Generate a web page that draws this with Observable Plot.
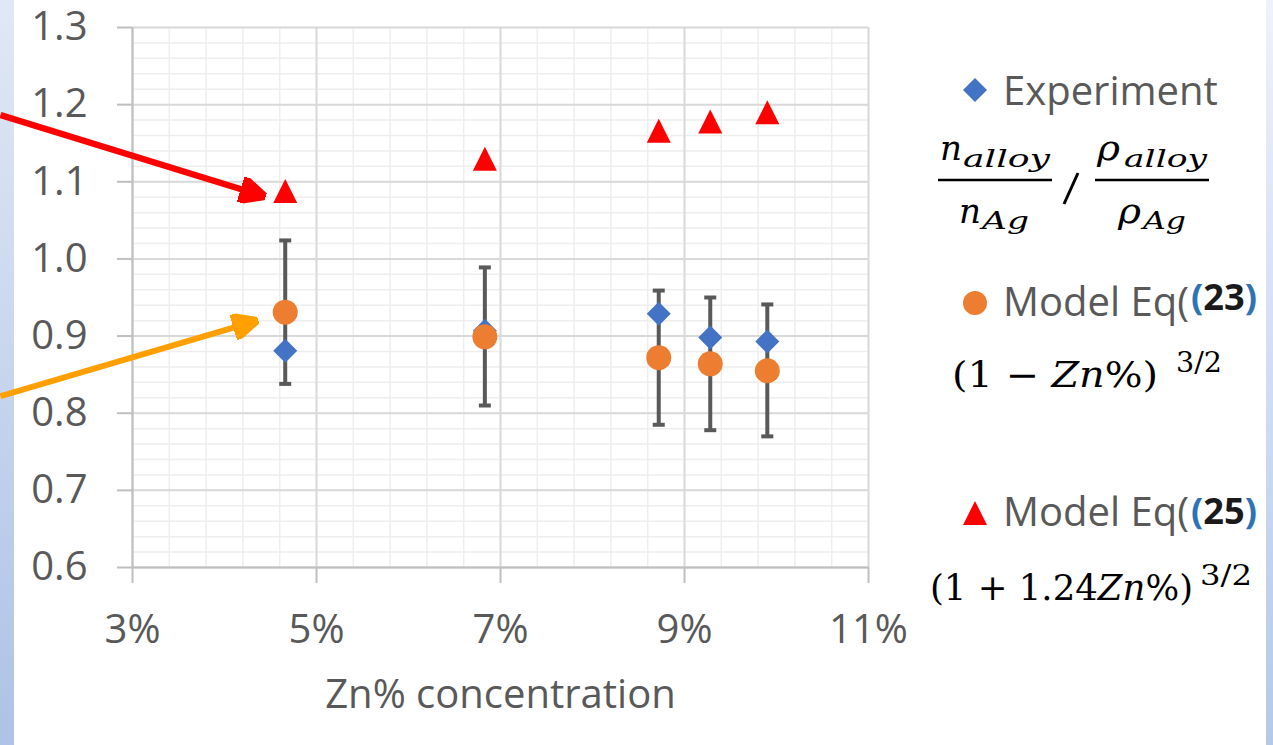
<!DOCTYPE html>
<html>
<head>
<meta charset="utf-8">
<script src="https://cdn.jsdelivr.net/npm/d3@7"></script>
<script src="https://cdn.jsdelivr.net/npm/@observablehq/plot@0.6"></script>
<style>
  html, body { margin: 0; padding: 0; background: #fff; }
  #wrap { position: relative; width: 1273px; height: 745px; overflow: hidden; }
  .strip { position: absolute; top: 0; height: 745px; }
  #stripLeft { left: 0; width: 14px; background: linear-gradient(#e1e8f5, #adc2e6); }
  #stripRight { left: 1266px; width: 7px; background: linear-gradient(#eef2fa, #b5c8e8); }
  #wrap svg { position: absolute; left: 0; top: 0; }
</style>
</head>
<body>
<div id="wrap">
  <div class="strip" id="stripLeft"></div>
  <div class="strip" id="stripRight"></div>
</div>
<script>
// Zn concentration of each alloy sample (fraction)
const zn = [0.0466, 0.0683, 0.0872, 0.0928, 0.0990];
// measured ratio (n_alloy/n_Ag)/(rho_alloy/rho_Ag)
const experiment = [0.881, 0.907, 0.929, 0.898, 0.893];
// model Eq (23): (1 - Zn%)^(3/2)
const modelEq23 = [0.931, 0.899, 0.872, 0.864, 0.855];
// model Eq (25): (1 + 1.24 Zn%)^(3/2)
const modelEq25 = [1.088, 1.130, 1.166, 1.178, 1.190];
// +-10% error bars around model Eq (23)
const errLow = [0.838, 0.810, 0.785, 0.778, 0.770];
const errHigh = [1.024, 0.989, 0.959, 0.950, 0.941];

const xTicks = [0.03, 0.05, 0.07, 0.09, 0.11];
const yTicks = [0.6, 0.7, 0.8, 0.9, 1.0, 1.1, 1.2, 1.3];
const xTitle = "Zn% concentration";

// callout arrows (data coordinates): tail and head end
const redArrow = [{x1: 0.01565, y1: 1.1865, x2: 0.0427, y2: 1.0871}];
const orangeArrow = [{x1: 0.01565, y1: 0.822, x2: 0.0419, y2: 0.9143}];

const legendLabels = ["Experiment", "Model Eq", "Model Eq"];
const eqRefs = ["23", "25"];

const rows = zn.map((z, i) => ({
  zn: z, exp: experiment[i], m23: modelEq23[i], m25: modelEq25[i], lo: errLow[i], hi: errHigh[i]
}));

const minorX = d3.range(0, 21).map(i => 0.03 + i * 0.004);
const minorY = d3.range(0, 36).map(i => 0.6 + i * 0.02);

// marker shapes
const diamond = {draw(ctx, size) { const r = Math.sqrt(size / Math.PI);
  ctx.moveTo(0, -r); ctx.lineTo(r, 0); ctx.lineTo(0, r); ctx.lineTo(-r, 0); ctx.closePath(); }};
const triangle = {draw(ctx, size) { const r = Math.sqrt(size / Math.PI);
  ctx.moveTo(0, -r); ctx.lineTo(r, r); ctx.lineTo(-r, r); ctx.closePath(); }};
const cap = {draw(ctx) { ctx.rect(-6, -2, 12, 4); }};

// filled arrowhead marker for the callouts
function arrowHead(color, context) {
  const doc = (context && context.document) || document;
  const ns = "http://www.w3.org/2000/svg";
  const m = doc.createElementNS(ns, "marker");
  m.setAttribute("viewBox", "0 -13 26 26");
  m.setAttribute("markerUnits", "userSpaceOnUse");
  m.setAttribute("markerWidth", 26);
  m.setAttribute("markerHeight", 26);
  m.setAttribute("refX", 9);
  m.setAttribute("refY", 0);
  m.setAttribute("orient", "auto");
  const p = doc.createElementNS(ns, "path");
  p.setAttribute("d", "M0,-12.5L26,0L0,12.5Z");
  p.setAttribute("fill", color);
  m.appendChild(p);
  return m;
}

function build(marker) {
  return Plot.plot({
    width: 1273,
    height: 745,
    marginLeft: 132,
    marginRight: 405,
    marginTop: 27,
    marginBottom: 178,
    x: {domain: [0.03, 0.11]},
    y: {domain: [0.6, 1.3]},
    style: {fontFamily: "'Open Sans', sans-serif", fontSize: "40px", color: "#595959", background: "transparent", overflow: "visible"},
    marks: [
      Plot.ruleX(minorX, {stroke: "#eeeeee", strokeWidth: 1.5}),
      Plot.ruleY(minorY, {stroke: "#eeeeee", strokeWidth: 1.5}),
      Plot.ruleX(xTicks, {stroke: "#d9d9d9", strokeWidth: 2}),
      Plot.ruleY(yTicks, {stroke: "#d9d9d9", strokeWidth: 2}),
      Plot.ruleX([0.03], {stroke: "#bfbfbf", strokeWidth: 2}),
      Plot.ruleY([0.6], {stroke: "#bfbfbf", strokeWidth: 2}),
      Plot.axisY({ticks: yTicks, tickSize: 15, tickPadding: 30, tickFormat: d3.format(".1f"),
        stroke: "#bfbfbf", strokeWidth: 2, fill: "#595959", label: null}),
      Plot.axisX({ticks: xTicks, tickSize: 16, tickPadding: 31, tickFormat: d3.format(".0%"),
        stroke: "#bfbfbf", strokeWidth: 2, fill: "#595959", label: null}),
      Plot.text([xTitle], {frameAnchor: "bottom", lineAnchor: "bottom", dy: 140, fill: "#595959", fontSize: 40}),
      // error bars
      Plot.ruleX(rows, {x: "zn", y1: "lo", y2: "hi", stroke: "#595959", strokeWidth: 4}),
      Plot.dot(rows, {x: "zn", y: "lo", symbol: cap, r: 6, fill: "#595959", stroke: "none"}),
      Plot.dot(rows, {x: "zn", y: "hi", symbol: cap, r: 6, fill: "#595959", stroke: "none"}),
      // series
      Plot.dot(rows, {x: "zn", y: "exp", symbol: diamond, r: 12, fill: "#4472c4", stroke: "none"}),
      Plot.dot(rows, {x: "zn", y: "m23", symbol: "circle", r: 12.5, fill: "#ed7d31", stroke: "none"}),
      Plot.dot(rows, {x: "zn", y: "m25", symbol: triangle, r: 12, fill: "#ff0000", stroke: "none"}),
      // callouts
      Plot.link(redArrow, {x1: "x1", y1: "y1", x2: "x2", y2: "y2", stroke: "#ff0000", strokeWidth: 6.5, markerEnd: marker}),
      Plot.link(orangeArrow, {x1: "x1", y1: "y1", x2: "x2", y2: "y2", stroke: "#ffa000", strokeWidth: 6, markerEnd: marker})
    ]
  });
}

let chart;
try { chart = build(arrowHead); } catch (e) { chart = build("arrow"); }
const wrap = document.getElementById("wrap");
wrap.appendChild(chart);

// legend with the model formulas
const svg = d3.create("svg").attr("width", 1273).attr("height", 745);
const sans = "'Open Sans', sans-serif";
const serif = "'DejaVu Serif', serif";

function text(x, y, parts, o) {
  const t = svg.append("text").attr("x", x).attr("y", y)
    .attr("font-family", o.family || sans).attr("font-size", o.size)
    .attr("fill", o.fill || "#000");
  if (o.weight) t.attr("font-weight", o.weight);
  if (o.len) t.attr("textLength", o.len).attr("lengthAdjust", "spacingAndGlyphs");
  for (const p of parts) {
    const s = t.append("tspan").text(p.s);
    if (p.i) s.attr("font-style", "italic");
    if (p.fill) s.attr("fill", p.fill);
  }
  return t;
}

// swatches
svg.append("path").attr("transform", "translate(975,90)")
  .attr("d", d3.symbol(diamond, Math.PI * 144)()).attr("fill", "#4472c4");
svg.append("path").attr("transform", "translate(975,303)")
  .attr("d", d3.symbol(d3.symbolCircle, Math.PI * 144)()).attr("fill", "#ed7d31");
svg.append("path").attr("transform", "translate(975,513)")
  .attr("d", d3.symbol(triangle, Math.PI * 144)()).attr("fill", "#ff0000");

// labels
text(1003, 105, [{s: legendLabels[0]}], {size: 40, fill: "#595959"});
text(1003, 316, [{s: legendLabels[1] + "("}], {size: 40, fill: "#595959"});
text(1191, 310, [{s: "(", fill: "#2e74b5"}, {s: eqRefs[0]}, {s: ")", fill: "#2e74b5"}], {size: 35, weight: "bold", fill: "#1a1a1a", len: 66});
text(1003, 526, [{s: legendLabels[2] + "("}], {size: 40, fill: "#595959"});
text(1191, 524, [{s: "(", fill: "#2e74b5"}, {s: eqRefs[1]}, {s: ")", fill: "#2e74b5"}], {size: 35, weight: "bold", fill: "#1a1a1a", len: 66});

// (n_alloy / n_Ag) / (rho_alloy / rho_Ag)
text(940, 160, [{s: "n", i: 1}], {family: serif, size: 36, len: 22});
text(963, 167, [{s: "alloy", i: 1}], {family: serif, size: 25, len: 87});
text(959, 223, [{s: "n", i: 1}], {family: serif, size: 36, len: 22});
text(982, 229, [{s: "Ag", i: 1}], {family: serif, size: 25, len: 47});
svg.append("line").attr("x1", 938).attr("x2", 1052).attr("y1", 180).attr("y2", 180).attr("stroke", "#000").attr("stroke-width", 2.5);
svg.append("line").attr("x1", 1064).attr("y1", 204).attr("x2", 1078).attr("y2", 173).attr("stroke", "#000").attr("stroke-width", 3);
text(1097, 160, [{s: "\u03c1", i: 1}], {family: serif, size: 36, len: 23});
text(1124, 167, [{s: "alloy", i: 1}], {family: serif, size: 25, len: 83});
text(1118, 223, [{s: "\u03c1", i: 1}], {family: serif, size: 36, len: 23});
text(1143, 229, [{s: "Ag", i: 1}], {family: serif, size: 25, len: 43});
svg.append("line").attr("x1", 1095).attr("x2", 1209).attr("y1", 180).attr("y2", 180).attr("stroke", "#000").attr("stroke-width", 2.5);

// (1 - Zn%)^{3/2}
text(952, 387, [{s: "(1 \u2212 "}, {s: "Zn", i: 1}, {s: "%)"}], {family: serif, size: 35, len: 206});
text(1176, 372, [{s: "3/2"}], {family: serif, size: 28, len: 46});
// (1 + 1.24 Zn%)^{3/2}
text(930, 600, [{s: "(1 + 1.24"}, {s: "Zn", i: 1}, {s: "%)"}], {family: serif, size: 35, len: 263});
text(1200, 585, [{s: "3/2"}], {family: serif, size: 28, len: 52});

wrap.appendChild(svg.node());
</script>
</body>
</html>
